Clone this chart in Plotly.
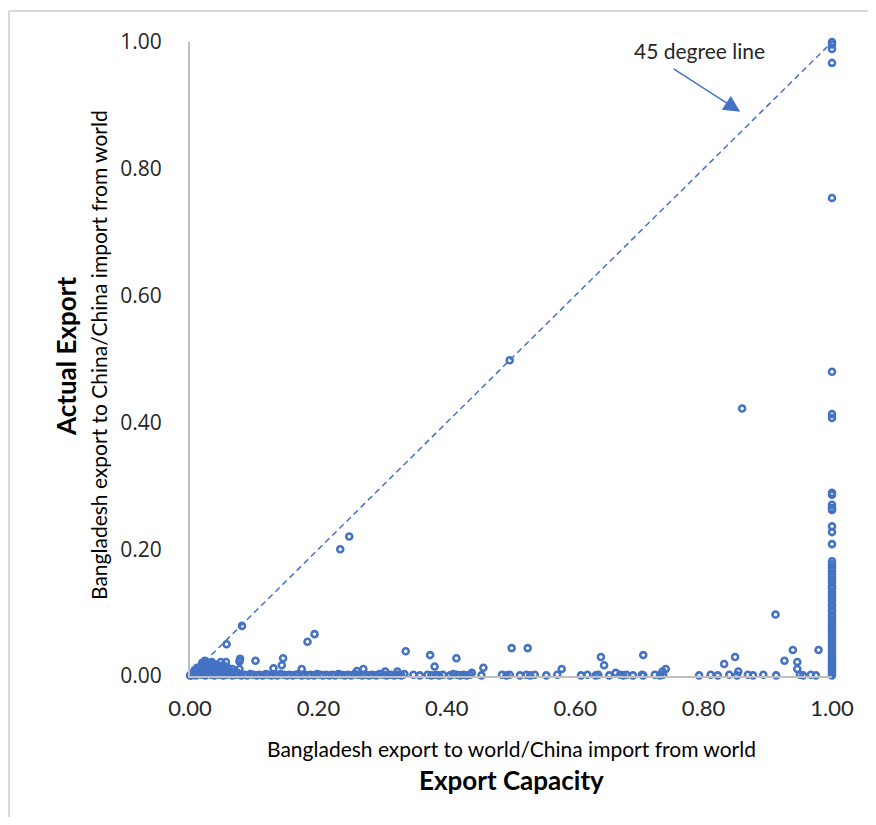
import plotly.graph_objects as go

# ---------------- data ----------------
# points clustered near the origin
origin_x = [0.002, 0.004, 0.006, 0.008, 0.010, 0.012, 0.013, 0.015, 0.016, 0.018, 0.020, 0.021,
            0.023, 0.025, 0.027, 0.029, 0.031, 0.033, 0.035, 0.037, 0.040, 0.042, 0.045, 0.047,
            0.050, 0.053, 0.056, 0.059, 0.062, 0.066, 0.070, 0.074, 0.019, 0.024, 0.028, 0.034,
            0.038, 0.044, 0.011, 0.007, 0.052, 0.060]
origin_y = [0.001, 0.003, 0.005, 0.002, 0.008, 0.004, 0.011, 0.007, 0.014, 0.010, 0.017, 0.005,
            0.013, 0.019, 0.009, 0.015, 0.006, 0.012, 0.016, 0.004, 0.010, 0.018, 0.007, 0.013,
            0.009, 0.005, 0.011, 0.004, 0.008, 0.006, 0.003, 0.005, 0.021, 0.023, 0.020, 0.022,
            0.002, 0.015, 0.013, 0.009, 0.017, 0.012]

# points lying on (or just above) the horizontal axis
base_x = [0.000, 0.005, 0.009, 0.014, 0.019, 0.024, 0.029, 0.033, 0.038, 0.043, 0.047, 0.052,
          0.057, 0.061, 0.066, 0.071, 0.075, 0.080, 0.085, 0.089, 0.094, 0.099, 0.104, 0.108,
          0.113, 0.118, 0.122, 0.127, 0.132, 0.136, 0.141, 0.146, 0.151, 0.155, 0.160, 0.165,
          0.169, 0.174, 0.179, 0.184, 0.188, 0.193, 0.198, 0.203, 0.207, 0.212, 0.217, 0.222,
          0.226, 0.231, 0.236, 0.241, 0.246, 0.251, 0.256, 0.262, 0.268, 0.273, 0.279, 0.284,
          0.290, 0.295, 0.301, 0.306, 0.312, 0.318, 0.323, 0.329, 0.334, 0.348, 0.358, 0.370,
          0.376, 0.383, 0.388, 0.394, 0.405, 0.410, 0.416, 0.421, 0.426, 0.431, 0.436, 0.454,
          0.486, 0.493, 0.498, 0.514, 0.524, 0.530, 0.537, 0.555, 0.572, 0.609, 0.619, 0.632,
          0.636, 0.653, 0.670, 0.675, 0.680, 0.690, 0.704, 0.706, 0.724, 0.732, 0.737, 0.793,
          0.811, 0.822, 0.840, 0.852, 0.869, 0.877, 0.893, 0.913, 0.950, 0.955, 0.967, 0.975]
base_y = [0.001, 0.002, 0.001, 0.003, 0.002, 0.001, 0.004, 0.002, 0.001, 0.003, 0.002, 0.001,
          0.002, 0.004, 0.001, 0.002, 0.003, 0.001, 0.002, 0.001, 0.003, 0.002, 0.001, 0.002,
          0.001, 0.003, 0.002, 0.001, 0.002, 0.001, 0.003, 0.002, 0.001, 0.002, 0.001, 0.002,
          0.003, 0.001, 0.002, 0.001, 0.002, 0.001, 0.003, 0.002, 0.001, 0.002, 0.001, 0.002,
          0.001, 0.003, 0.002, 0.001, 0.002, 0.001, 0.003, 0.002, 0.001, 0.002, 0.001, 0.002,
          0.001, 0.003, 0.002, 0.001, 0.002, 0.001, 0.002, 0.001, 0.003, 0.002, 0.001, 0.002,
          0.001, 0.002, 0.001, 0.002, 0.001, 0.003, 0.002, 0.001, 0.002, 0.001, 0.002, 0.001,
          0.002, 0.001, 0.002, 0.001, 0.002, 0.001, 0.002, 0.001, 0.002, 0.001, 0.002, 0.001,
          0.002, 0.001, 0.002, 0.001, 0.002, 0.001, 0.002, 0.001, 0.002, 0.001, 0.002, 0.001,
          0.002, 0.001, 0.002, 0.001, 0.002, 0.001, 0.002, 0.001, 0.002, 0.001, 0.002, 0.001]

# scattered points off the axis
scatter_x = [0.498, 0.234, 0.248, 0.081, 0.057, 0.183, 0.194, 0.860, 0.912, 0.023, 0.032,
             0.048, 0.056, 0.078, 0.077, 0.102, 0.145, 0.143, 0.130, 0.066, 0.077, 0.174,
             0.336, 0.374, 0.381, 0.415, 0.260, 0.270, 0.304, 0.323, 0.439, 0.457, 0.501,
             0.526, 0.579, 0.640, 0.645, 0.706, 0.741, 0.832, 0.849, 0.854, 0.926, 0.939,
             0.946, 0.946, 0.979, 0.736, 0.663]
scatter_y = [0.498, 0.200, 0.220, 0.079, 0.050, 0.054, 0.066, 0.422, 0.097, 0.024, 0.020,
             0.022, 0.022, 0.027, 0.023, 0.024, 0.028, 0.017, 0.012, 0.011, 0.011, 0.011,
             0.039, 0.033, 0.015, 0.028, 0.008, 0.011, 0.007, 0.007, 0.005, 0.013, 0.044,
             0.044, 0.011, 0.030, 0.017, 0.033, 0.011, 0.019, 0.030, 0.007, 0.024, 0.041,
             0.022, 0.011, 0.041, 0.007, 0.005]

# column of points at export capacity = 1
col_y = [1.000, 0.996, 0.989, 0.967, 0.754, 0.480, 0.413, 0.407, 0.289, 0.286, 0.270, 0.265,
         0.262, 0.236, 0.227, 0.208, 0.181, 0.176, 0.171, 0.166, 0.161, 0.157, 0.152, 0.147,
         0.142, 0.138, 0.133, 0.128, 0.124, 0.119, 0.114, 0.110, 0.105, 0.101, 0.096, 0.092,
         0.088, 0.083, 0.079, 0.075, 0.071, 0.067, 0.063, 0.059, 0.055, 0.051, 0.047, 0.043,
         0.039, 0.035, 0.031, 0.027, 0.024, 0.020, 0.017, 0.013, 0.010, 0.007, 0.004, 0.001]
col_x = [1.0] * len(col_y)

diag_x = [0, 1]
diag_y = [0, 1]

tick_vals = [0, 0.2, 0.4, 0.6, 0.8, 1.0]
tick_text = ["0.00", "0.20", "0.40", "0.60", "0.80", "1.00"]

BLUE = "#4472C4"
FONT = "Lato, 'Open Sans', sans-serif"

all_x = origin_x + base_x + scatter_x + col_x
all_y = origin_y + base_y + scatter_y + col_y

fig = go.Figure()
fig.add_trace(go.Scatter(x=diag_x, y=diag_y, mode="lines",
                         line=dict(color=BLUE, width=1.5, dash="6px,4px"),
                         hoverinfo="skip", showlegend=False))
fig.add_trace(go.Scatter(x=all_x, y=all_y, mode="markers", cliponaxis=False,
                         marker=dict(symbol="circle-open", size=6, color=BLUE,
                                     line=dict(width=2.6, color=BLUE)),
                         showlegend=False))

# the page has an 8px body margin; figure is placed at page (8, 8)
OFF = 8
W, H = 860, 809
L, R, T, B = 182, 36, 34, 141
pw, ph = W - L - R, H - T - B


def px(xpage):
    return (xpage - OFF - L) / pw


def py(ypage):
    return (H - B - (ypage - OFF)) / ph


fig.update_layout(
    width=W, height=H,
    margin=dict(l=L, r=R, t=T, b=B),
    paper_bgcolor="white", plot_bgcolor="white",
    font=dict(family=FONT, color="#000000"),
    xaxis=dict(range=[0, 1], showgrid=False, zeroline=False,
               showline=True, linecolor="#BFBFBF", linewidth=2,
               tickvals=tick_vals, ticktext=tick_text, ticks="",
               tickfont=dict(family=FONT, size=22, color="#262626"), ticklabelstandoff=12),
    yaxis=dict(range=[0, 1], showgrid=False, zeroline=False,
               showline=True, linecolor="#BFBFBF", linewidth=2,
               tickvals=tick_vals, ticktext=tick_text, ticks="",
               tickfont=dict(family="'Open Sans', sans-serif", size=21, color="#262626"),
               ticklabelstandoff=22),
    shapes=[
        dict(type="line", xref="paper", yref="paper",
             x0=px(9), x1=px(9), y0=py(11), y1=py(830),
             line=dict(color="#D9D9D9", width=2), layer="below"),
        dict(type="line", xref="paper", yref="paper",
             x0=px(9), x1=px(880), y0=py(11), y1=py(11),
             line=dict(color="#D9D9D9", width=2), layer="below"),
    ],
    annotations=[
        dict(xref="paper", yref="paper", x=px(512), y=py(748),
             xanchor="center", yanchor="middle",
             text="Bangladesh export to world/China import from world",
             showarrow=False, font=dict(size=21, color="#000000")),
        dict(xref="paper", yref="paper", x=px(512), y=py(780),
             xanchor="center", yanchor="middle",
             text="<b>Export Capacity</b>",
             showarrow=False, font=dict(size=26, color="#000000")),
        dict(xref="paper", yref="paper", x=px(66), y=py(357),
             xanchor="center", yanchor="middle",
             text="<b>Actual Export</b>", textangle=-90,
             showarrow=False, font=dict(size=26, color="#000000")),
        dict(xref="paper", yref="paper", x=px(98), y=py(355),
             xanchor="center", yanchor="middle",
             text="Bangladesh export to China/China import from world", textangle=-90,
             showarrow=False, font=dict(size=21, color="#000000")),
        dict(xref="paper", yref="paper", x=px(699), y=py(50),
             xanchor="center", yanchor="middle",
             text="45 degree line", showarrow=False,
             font=dict(size=21, color="#262626")),
        dict(x=0.857, y=0.890, ax=0.751, ay=0.959, axref="x", ayref="y",
             xref="x", yref="y", text="", showarrow=True,
             arrowhead=2, arrowsize=2.2, arrowwidth=1.5, arrowcolor=BLUE),
    ],
)

fig.write_html("out.html")
